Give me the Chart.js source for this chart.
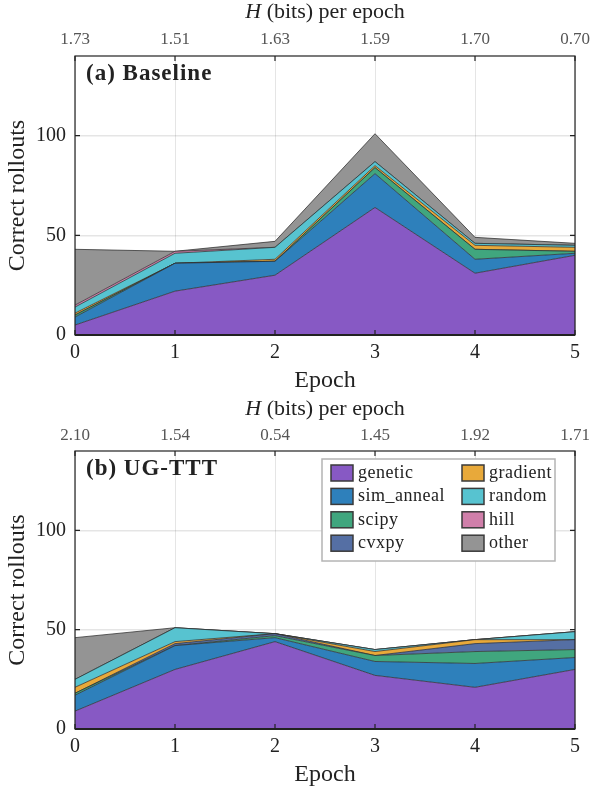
<!DOCTYPE html>
<html>
<head>
<meta charset="utf-8">
<title>Correct rollouts per epoch</title>
<script src="https://cdn.jsdelivr.net/npm/chart.js"></script>
<style>
  body { margin: 0; background: #fff; width: 598px; height: 792px; position: relative; overflow: hidden; }
  canvas { position: absolute; left: 0; }
</style>
</head>
<body>
<canvas id="chartA" width="598" height="396" style="top:0"></canvas>
<canvas id="chartB" width="598" height="396" style="top:396px"></canvas>

<script>
const epochs = [0, 1, 2, 3, 4, 5];
const methods = ['genetic', 'sim_anneal', 'scipy', 'cvxpy', 'gradient', 'random', 'hill', 'other'];
const colors = ['#8759c4', '#2e80bb', '#40a67e', '#556fa4', '#e8a93a', '#57c3d0', '#d07faa', '#949494'];

// (a) Baseline
const hBaseline = ['1.73', '1.51', '1.63', '1.59', '1.70', '0.70'];
const baseGenetic   = [5, 22, 30, 64, 31, 40];
const baseSimAnneal = [4, 14, 7, 17, 7, 1];
const baseScipy     = [1, 0, 0, 3, 5, 1];
const baseCvxpy     = [0, 0, 0, 0, 0, 0];
const baseGradient  = [1, 0, 1, 1, 2, 2];
const baseRandom    = [3, 5, 6, 2, 1, 1];
const baseHill      = [1, 1, 0, 0, 0, 0];
const baseOther     = [28, 0, 3, 14, 3, 1];

// (b) UG-TTT
const hUgttt = ['2.10', '1.54', '0.54', '1.45', '1.92', '1.71'];
const ugGenetic   = [9, 30, 44, 27, 21, 30];
const ugSimAnneal = [8, 12, 2, 7, 12, 6];
const ugScipy     = [1, 0, 1, 3, 6, 4];
const ugCvxpy     = [0, 1, 1, 0, 4, 5];
const ugGradient  = [3, 1, 0, 2, 2, 0];
const ugRandom    = [4, 7, 0, 1, 0, 4];
const ugHill      = [0, 0, 0, 0, 0, 0];
const ugOther     = [21, 0, 0, 0, 0, 0];

const serif = "'Liberation Serif', 'DejaVu Serif', serif";
Chart.defaults.font.family = serif;
Chart.defaults.color = '#222';

// legend in two columns of four, top right of panel (b)
function drawLegend(ctx, a) {
  const bx = a.right - 253, by = a.top + 8, bw = 233, bh = 102;
  ctx.fillStyle = '#fff';
  ctx.fillRect(bx, by, bw, bh);
  ctx.strokeStyle = '#b4b4b4';
  ctx.lineWidth = 1.5;
  ctx.strokeRect(bx, by, bw, bh);
  ctx.font = '18px ' + serif;
  ctx.letterSpacing = '0.5px';
  ctx.textBaseline = 'middle';
  methods.forEach((m, i) => {
    const col = Math.floor(i / 4), row = i % 4;
    const sx = bx + 9 + col * 131;
    const cy = by + 14 + row * 23.4;
    ctx.fillStyle = colors[i];
    ctx.fillRect(sx, cy - 8, 22, 16);
    ctx.strokeStyle = '#3a3a3a';
    ctx.lineWidth = 1.5;
    ctx.strokeRect(sx, cy - 8, 22, 16);
    ctx.fillStyle = '#222';
    ctx.fillText(m, sx + 27, cy);
  });
  ctx.letterSpacing = '0px';
}

// box, inward ticks, panel tag and the top title with italic H
function framePlugin(tag, titleY, withLegend) {
  return {
    id: 'frame',
    afterDraw(chart) {
      const ctx = chart.ctx;
      const a = chart.chartArea;
      const xs = chart.scales.x, ys = chart.scales.y;
      ctx.save();
      ctx.strokeStyle = '#222';
      ctx.lineWidth = 1.2;
      ctx.strokeRect(a.left, a.top, a.right - a.left, a.bottom - a.top);
      ctx.lineWidth = 2;
      ctx.beginPath();
      ctx.moveTo(a.left, a.bottom);
      ctx.lineTo(a.right, a.bottom);
      ctx.stroke();

      ctx.lineWidth = 1.2;
      ctx.beginPath();
      xs.ticks.forEach((t, i) => {
        const px = xs.getPixelForTick(i);
        ctx.moveTo(px, a.bottom); ctx.lineTo(px, a.bottom - 5);
        ctx.moveTo(px, a.top); ctx.lineTo(px, a.top + 5);
      });
      ys.ticks.forEach(t => {
        const py = ys.getPixelForValue(t.value);
        ctx.moveTo(a.left, py); ctx.lineTo(a.left + 5, py);
        ctx.moveTo(a.right, py); ctx.lineTo(a.right - 5, py);
      });
      ctx.stroke();

      ctx.fillStyle = '#222';
      ctx.textBaseline = 'middle';
      ctx.textAlign = 'left';
      ctx.font = 'bold 23px ' + serif;
      ctx.letterSpacing = '1px';
      ctx.fillText(tag, a.left + 11, a.top + 18);
      ctx.letterSpacing = '0px';

      const partH = 'H', rest = ' (bits) per epoch';
      ctx.font = 'italic 22px ' + serif;
      const wH = ctx.measureText(partH).width;
      ctx.font = '22px ' + serif;
      const wR = ctx.measureText(rest).width;
      const x0 = (a.left + a.right) / 2 - (wH + wR) / 2;
      ctx.font = 'italic 22px ' + serif;
      ctx.fillText(partH, x0, titleY);
      ctx.font = '22px ' + serif;
      ctx.fillText(rest, x0 + wH, titleY);

      if (withLegend) drawLegend(ctx, a);
      ctx.restore();
    }
  };
}

function makePanel(id, series, hLabels, tag, box) {
  const datasets = methods.map((m, i) => ({
    label: m,
    data: series[i],
    backgroundColor: colors[i],
    borderColor: 'rgba(45,45,45,0.75)',
    borderWidth: 1,
    fill: i === 0 ? 'origin' : '-1',
    pointRadius: 0,
    tension: 0
  }));

  new Chart(document.getElementById(id), {
    type: 'line',
    data: { labels: epochs, datasets: datasets },
    options: {
      responsive: false,
      animation: false,
      events: [],
      layout: { padding: { left: 0, right: 23, top: 0, bottom: 0 } },
      plugins: { legend: { display: false }, tooltip: { enabled: false } },
      scales: {
        x: {
          position: 'bottom',
          offset: false,
          z: 1,
          grid: { color: 'rgba(0,0,0,0.1)', drawTicks: false },
          border: { display: false },
          ticks: { padding: 6, color: '#222', font: { size: 20 }, maxRotation: 0 },
          title: { display: true, text: 'Epoch', color: '#222', font: { size: 24 }, padding: { top: 0, bottom: box.titlePad } },
          afterFit: s => { s.height = box.bottom; }
        },
        x2: {
          type: 'category',
          labels: hLabels,
          position: 'top',
          offset: false,
          grid: { display: false },
          border: { display: false },
          ticks: { padding: box.topTickPad, color: '#555', font: { size: 17 }, maxRotation: 0 },
          afterFit: s => { s.height = box.top; }
        },
        y: {
          stacked: true,
          min: 0,
          max: 140,
          z: 1,
          grid: { color: 'rgba(0,0,0,0.1)', lineWidth: 1.5, drawTicks: false },
          border: { display: false },
          ticks: { stepSize: 50, includeBounds: false, padding: 9, color: '#222', font: { size: 20 } },
          title: { display: true, text: 'Correct rollouts', color: '#222', font: { size: 24 }, padding: { top: 3, bottom: 0 } },
          afterFit: s => { s.width = 75; }
        }
      }
    },
    plugins: [framePlugin(tag, box.titleY, box.legend)]
  });
}

makePanel('chartA',
  [baseGenetic, baseSimAnneal, baseScipy, baseCvxpy, baseGradient, baseRandom, baseHill, baseOther],
  hBaseline, '(a) Baseline', { top: 56, bottom: 61, titlePad: 1, titleY: 12, topTickPad: -2, legend: false });

makePanel('chartB',
  [ugGenetic, ugSimAnneal, ugScipy, ugCvxpy, ugGradient, ugRandom, ugHill, ugOther],
  hUgttt, '(b) UG-TTT', { top: 55, bottom: 63, titlePad: 3, titleY: 13, topTickPad: -3, legend: true });
</script>
</body>
</html>
